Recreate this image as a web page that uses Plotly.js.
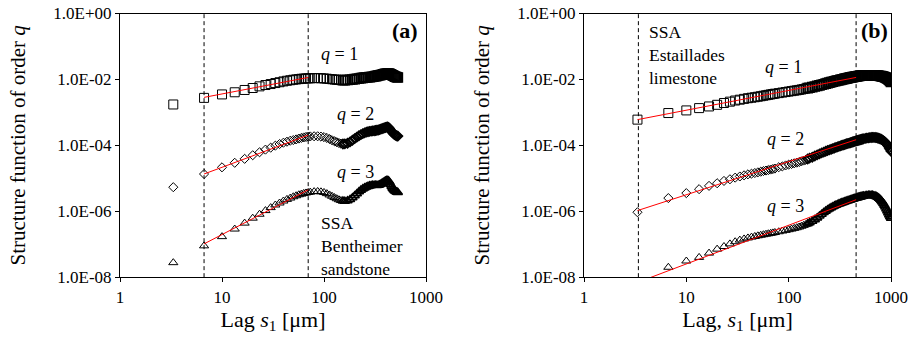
<!DOCTYPE html>
<html>
<head>
<meta charset="utf-8">
<script src="https://cdn.plot.ly/plotly-3.0.1.min.js"></script>
<style>html,body{margin:0;padding:0;background:#fff}#chart{width:921px;height:338px}</style>
</head>
<body>
<div id="chart"></div>
<script>
// Lag s1 [um] for panel (a) Bentheimer and panel (b) Estaillades
const lagA = [3.33,6.67,10,13.33,16.67,20,23.33,26.67,30,33.33,36.67,40,43.33,46.67,50,53.33,56.67,60,63.33,66.67,70,73.33,
  80,86.67,93.33,100,106.67,113.33,120,126.67,133.33,140,146.67,153.33,160,
  170,180,190,200,210,220,230,240,250,260,270,280,290,300,310,320,330,340,350,360,370,380,390,400,410,420,430,440,450,460,470,480,490,500,510,520,530];
const lagB = [3.33,6.67,10,13.33,16.67,20,23.33,26.67,30,33.33,36.67,40,43.33,46.67,50,53.33,56.67,60,63.33,66.67,70,73.33,
  80,86.67,93.33,100,106.67,113.33,120,126.67,133.33,140,146.67,153.33,160,
  170,180,190,200,210,220,230,240,250,260,270,280,290,300,310,320,330,340,350,360,370,380,390,400,410,420,430,440,450,460,470,480,490,500,510,520,530,
  540,560,580,600,620,640,660,680,700,720,740,760,780,800,820,840,860,880,900,920,940,960,980,1000];

// log10 of the structure function
const aQ1Log10 = [-2.76,-2.56,-2.455,-2.39,-2.32,-2.26,-2.21,-2.17,-2.14,-2.11,-2.085,-2.06,-2.04,-2.025,-2.01,-2.0,-1.99,-1.98,-1.975,-1.97,-1.968,-1.965,
  -1.96,-1.96,-1.963,-1.97,-1.978,-1.987,-1.995,-2.003,-2.01,-2.015,-2.02,-2.022,-2.022,
  -2.018,-2.01,-2.0,-1.99,-1.98,-1.97,-1.96,-1.952,-1.946,-1.94,-1.935,-1.93,-1.925,-1.918,-1.91,-1.9,-1.892,-1.882,-1.874,-1.866,
  -1.857,-1.848,-1.84,-1.832,-1.826,-1.822,-1.822,-1.83,-1.845,-1.86,-1.875,-1.89,-1.905,-1.918,-1.928,-1.936,-1.942];
const aQ2Log10 = [-5.27,-4.87,-4.667,-4.53,-4.41,-4.3,-4.21,-4.13,-4.07,-4.01,-3.96,-3.92,-3.89,-3.86,-3.84,-3.82,-3.795,-3.775,-3.76,-3.745,-3.735,-3.73,
  -3.725,-3.725,-3.735,-3.75,-3.775,-3.81,-3.845,-3.875,-3.905,-3.93,-3.948,-3.958,-3.955,
  -3.935,-3.895,-3.845,-3.795,-3.75,-3.71,-3.675,-3.645,-3.62,-3.6,-3.588,-3.578,-3.57,-3.563,-3.557,-3.55,-3.542,-3.533,-3.522,-3.51,
  -3.497,-3.483,-3.47,-3.458,-3.448,-3.445,-3.455,-3.49,-3.54,-3.58,-3.615,-3.645,-3.67,-3.69,-3.705,-3.715,-3.72];
const aQ3Log10 = [-7.56,-7.05,-6.77,-6.54,-6.36,-6.21,-6.09,-5.98,-5.89,-5.81,-5.75,-5.69,-5.64,-5.6,-5.56,-5.53,-5.5,-5.48,-5.46,-5.445,-5.43,-5.42,
  -5.405,-5.4,-5.41,-5.43,-5.465,-5.505,-5.545,-5.585,-5.62,-5.65,-5.675,-5.69,-5.695,
  -5.68,-5.645,-5.59,-5.53,-5.47,-5.41,-5.36,-5.32,-5.29,-5.265,-5.245,-5.23,-5.22,-5.213,-5.21,-5.212,-5.215,-5.212,-5.2,-5.18,
  -5.155,-5.13,-5.105,-5.085,-5.07,-5.065,-5.08,-5.13,-5.19,-5.25,-5.3,-5.34,-5.37,-5.395,-5.41,-5.42,-5.43];

const bQ1Log10 = [-3.22,-3.02,-2.94,-2.87,-2.82,-2.77,-2.715,-2.675,-2.64,-2.615,-2.59,-2.57,-2.555,-2.54,-2.525,-2.51,-2.495,-2.48,-2.468,-2.455,-2.443,-2.432,
  -2.415,-2.398,-2.383,-2.368,-2.355,-2.342,-2.33,-2.318,-2.305,-2.292,-2.278,-2.265,-2.252,
  -2.235,-2.215,-2.197,-2.18,-2.162,-2.145,-2.128,-2.112,-2.097,-2.083,-2.07,-2.057,-2.045,-2.034,-2.023,-2.012,-2.002,-1.993,-1.984,-1.975,
  -1.967,-1.959,-1.951,-1.944,-1.937,-1.93,-1.924,-1.918,-1.912,-1.907,-1.902,-1.898,-1.894,-1.89,-1.887,-1.884,-1.881,
  -1.879,-1.876,-1.874,-1.873,-1.873,-1.874,-1.875,-1.877,-1.879,-1.882,-1.886,-1.89,-1.895,-1.9,-1.907,-1.915,-1.925,-1.937,-1.952,-1.97,-1.99,-2.015,-2.045,-2.08];
const bQ2Log10 = [-6.03,-5.6,-5.45,-5.33,-5.23,-5.15,-5.08,-5.03,-4.98,-4.945,-4.91,-4.88,-4.86,-4.84,-4.82,-4.8,-4.78,-4.765,-4.75,-4.735,-4.72,-4.705,
  -4.665,-4.64,-4.61,-4.585,-4.565,-4.545,-4.525,-4.505,-4.485,-4.462,-4.44,-4.415,-4.39,
  -4.36,-4.325,-4.29,-4.26,-4.23,-4.205,-4.18,-4.158,-4.137,-4.117,-4.098,-4.08,-4.063,-4.047,-4.032,-4.017,-4.003,-3.99,-3.977,-3.965,
  -3.953,-3.942,-3.931,-3.92,-3.91,-3.9,-3.89,-3.88,-3.871,-3.862,-3.853,-3.845,-3.837,-3.829,-3.822,-3.815,-3.808,
  -3.802,-3.79,-3.78,-3.772,-3.766,-3.762,-3.76,-3.76,-3.763,-3.768,-3.776,-3.786,-3.8,-3.815,-3.833,-3.855,-3.88,-3.91,-3.945,-3.985,-4.03,-4.08,-4.13,-4.18];
const bQ3Log10 = [null,-7.7,-7.51,-7.4,-7.27,-7.15,-7.07,-6.99,-6.925,-6.875,-6.84,-6.81,-6.785,-6.765,-6.745,-6.728,-6.712,-6.697,-6.683,-6.67,-6.657,-6.645,
  -6.622,-6.6,-6.58,-6.56,-6.54,-6.52,-6.5,-6.478,-6.455,-6.43,-6.405,-6.378,-6.35,
  -6.305,-6.255,-6.2,-6.145,-6.09,-6.04,-5.995,-5.955,-5.92,-5.89,-5.862,-5.838,-5.815,-5.795,-5.777,-5.76,-5.745,-5.73,-5.716,-5.703,
  -5.69,-5.678,-5.667,-5.656,-5.645,-5.635,-5.625,-5.615,-5.606,-5.597,-5.588,-5.58,-5.572,-5.565,-5.558,-5.551,-5.545,
  -5.54,-5.53,-5.522,-5.517,-5.515,-5.516,-5.52,-5.528,-5.54,-5.556,-5.577,-5.603,-5.635,-5.672,-5.715,-5.762,-5.815,-5.87,-5.93,-5.99,-6.05,-6.11,-6.165,-6.21];

// Power-law fits (red lines): end lags and log10 values
const fitLagA = [6.67, 70];
const fitAQ1Log10 = [-2.545, -1.94];
const fitAQ2Log10 = [-4.87, -3.69];
const fitAQ3Log10 = [-6.99, -5.35];
const fitLagB = [3.33, 456];
const fitBQ1Log10 = [-3.22, -1.94];
const fitBQ2Log10 = [-5.98, -3.83];
const fitBQ3Log10 = [-8.16, -5.65];

// Scaling-range limits (dashed verticals)
const cutA = [6.67, 70];
const cutB = [3.4, 456];

const yTickVals = [1, 1e-2, 1e-4, 1e-6, 1e-8];
const yTickText = ["1.0E+00", "1.0E-02", "1.0E-04", "1.0E-06", "1.0E-08"];
const xTickVals = [1, 10, 100, 1000];
const xTickText = ["1", "10", "100", "1000"];

const toVal = a => a.map(v => v === null ? null : Math.pow(10, v));
const FONT = "'Liberation Serif', 'Times New Roman', Times, serif";

// marker outlines get a touch heavier where the points crowd into a solid band
function outlineWidths(x) { return x.map(v => v > 150 ? 1.6 : 1); }

function pts(x, ylog, sym, size, xa, ya) {
  return {x: x, y: toVal(ylog), type: "scatter", mode: "markers", xaxis: xa, yaxis: ya,
    marker: {symbol: sym, size: size, color: "black", line: {color: "black", width: outlineWidths(x)}},
    showlegend: false, hoverinfo: "skip", cliponaxis: true};
}
function fit(x, ylog, xa, ya) {
  return {x: x, y: toVal(ylog), type: "scatter", mode: "lines", xaxis: xa, yaxis: ya,
    line: {color: "red", width: 1}, showlegend: false, hoverinfo: "skip"};
}

const data = [
  pts(lagA, aQ1Log10, "square-open", 9, "x", "y"),
  pts(lagA, aQ2Log10, "diamond-open", 7, "x", "y"),
  pts(lagA, aQ3Log10, "triangle-up-open", 8, "x", "y"),
  fit(fitLagA, fitAQ1Log10, "x", "y"),
  fit(fitLagA, fitAQ2Log10, "x", "y"),
  fit(fitLagA, fitAQ3Log10, "x", "y"),
  pts(lagB, bQ1Log10, "square-open", 9, "x2", "y2"),
  pts(lagB, bQ2Log10, "diamond-open", 7, "x2", "y2"),
  pts(lagB, bQ3Log10, "triangle-up-open", 8, "x2", "y2"),
  fit(fitLagB, fitBQ1Log10, "x2", "y2"),
  fit(fitLagB, fitBQ2Log10, "x2", "y2"),
  fit(fitLagB, fitBQ3Log10, "x2", "y2")
];

function xAxis(dom, title, anchor) {
  return {domain: dom, type: "log", range: [0, 3], anchor: anchor,
    tickvals: xTickVals, ticktext: xTickText, ticks: "outside", ticklen: 4, tickwidth: 1, tickcolor: "black",
    showline: true, linecolor: "black", linewidth: 1, mirror: true, showgrid: false, zeroline: false,
    tickfont: {family: FONT, size: 17, color: "black"},
    title: {text: title, font: {family: FONT, size: 22, color: "black"}, standoff: 2}};
}
function yAxis(anchor) {
  return {domain: [0.18, 0.96], type: "log", range: [-8, 0], anchor: anchor,
    tickvals: yTickVals, ticktext: yTickText, ticks: "outside", ticklen: 4, tickwidth: 1, tickcolor: "black",
    showline: true, linecolor: "black", linewidth: 1, mirror: true, showgrid: false, zeroline: false,
    tickfont: {family: FONT, size: 17, color: "black"},
    title: {text: "Structure function of order <i>q</i>", font: {family: FONT, size: 21, color: "black"}, standoff: 22}};
}

const shapes = [];
cutA.forEach(v => shapes.push({type: "line", xref: "x", yref: "y domain", x0: v, x1: v, y0: 0, y1: 1,
  line: {color: "black", width: 1, dash: "4px,3px"}, layer: "below"}));
cutB.forEach(v => shapes.push({type: "line", xref: "x2", yref: "y2 domain", x0: v, x1: v, y0: 0, y1: 1,
  line: {color: "black", width: 1, dash: "4px,3px"}, layer: "below"}));

function ann(text, px, py, opts) {
  return Object.assign({text: text, xref: "paper", yref: "paper", x: px / 921, y: 1 - py / 338,
    showarrow: false, xanchor: "center", yanchor: "middle",
    font: {family: FONT, size: 18, color: "black"}}, opts || {});
}

const annotations = [
  ann("<b>(a)</b>", 405, 30, {font: {family: FONT, size: 22, color: "black"}}),
  ann("<i>q</i> = 1", 339, 54),
  ann("<i>q</i> = 2", 355, 114),
  ann("<i>q</i> = 3", 355, 172),
  ann("SSA<br>Bentheimer<br>sandstone", 319, 246, {xanchor: "left", align: "left", font: {family: FONT, size: 17.5, color: "black"}}),
  ann("<b>(b)</b>", 874, 30, {font: {family: FONT, size: 22, color: "black"}}),
  ann("<i>q</i> = 1", 783, 67),
  ann("<i>q</i> = 2", 785, 139),
  ann("<i>q</i> = 3", 785, 206),
  ann("SSA<br>Estaillades<br>limestone", 647, 55, {xanchor: "left", align: "left", font: {family: FONT, size: 17.5, color: "black"}})
];

const layout = {
  width: 921, height: 338,
  margin: {l: 0, r: 0, t: 0, b: 0},
  paper_bgcolor: "white", plot_bgcolor: "white",
  showlegend: false,
  font: {family: FONT, color: "black"},
  xaxis: xAxis([120 / 921, 426 / 921], "Lag <i>s</i><sub>1</sub> [μm]", "y"),
  yaxis: yAxis("x"),
  xaxis2: xAxis([584 / 921, 891 / 921], "Lag, <i>s</i><sub>1</sub> [μm]", "y2"),
  yaxis2: yAxis("x2"),
  shapes: shapes,
  annotations: annotations
};

Plotly.newPlot("chart", data, layout, {staticPlot: true, displayModeBar: false});
</script>
</body>
</html>
